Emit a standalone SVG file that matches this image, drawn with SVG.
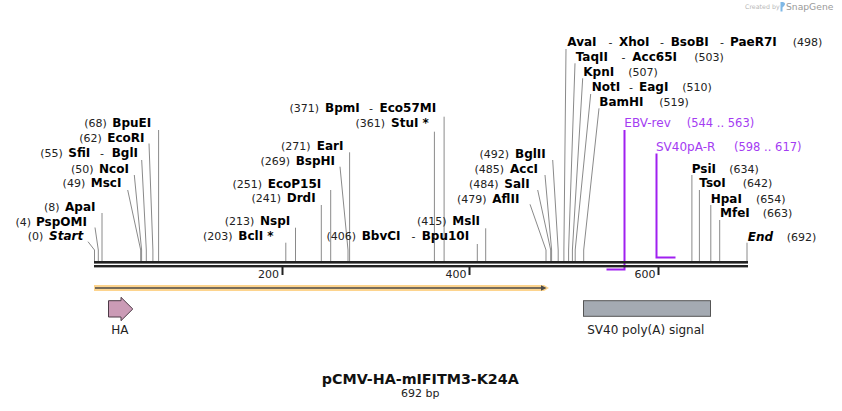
<svg xmlns="http://www.w3.org/2000/svg" width="842" height="411" viewBox="0 0 842 411">
<style>
text{font-family:"DejaVu Sans","Verdana",sans-serif;}
.n{font-size:11px;fill:#222;}
.l{text-anchor:end;}
.e{font-size:12px;font-weight:bold;fill:#000;}
.it{font-style:italic;}
.d{font-size:11px;fill:#222;}
.p{font-size:12px;fill:#a43cf2;}
.pn{font-size:11.5px;fill:#a43cf2;}
.lead{fill:none;stroke:#8a8a8a;stroke-width:1;}
.prim{fill:none;stroke:#a020f0;stroke-width:2;}
.tick{font-size:11px;fill:#222;text-anchor:end;}
.lbl{font-size:12px;fill:#222;text-anchor:middle;}
</style>
<rect x="0" y="0" width="842" height="411" fill="#fff"/>

<g id="logo">
<text x="745" y="9" style="font-size:6.3px;fill:#b8b8b8">Created by</text>
<path d="M781,2 C785,1.5 786,4 784,6 L782.5,7.5 L782.5,11.5 L780.5,11.5 L780.5,2 Z" fill="#7fb8e6"/>
<text x="786" y="10" style="font-size:9.2px;fill:#9a9a9a">SnapGene</text>
</g>

<g id="connectors">
<polyline class="lead" points="88,241.7 94.5,250 94.5,261"/>
<polyline class="lead" points="95,227.5 98.3,250 98.3,261"/>
<polyline class="lead" points="102,213 102,261"/>
<polyline class="lead" points="127.7,190 140.7,250 140.7,261"/>
<polyline class="lead" points="134.3,175 141.6,250 141.6,261"/>
<polyline class="lead" points="141.7,160 146.3,250 146.3,261"/>
<polyline class="lead" points="149,143.5 152.9,250 152.9,261"/>
<polyline class="lead" points="158.6,130 158.6,261"/>
<polyline class="lead" points="285.8,242.7 285.8,261"/>
<polyline class="lead" points="295.5,227.7 295.5,261"/>
<polyline class="lead" points="321.3,205 321.3,261"/>
<polyline class="lead" points="330.7,190 330.7,261"/>
<polyline class="lead" points="340,166.7 348,250 348,261"/>
<polyline class="lead" points="349.6,152.3 349.6,261"/>
<polyline class="lead" points="434.4,131.7 434.4,261"/>
<polyline class="lead" points="444.1,116.7 444.1,261"/>
<polyline class="lead" points="477.3,244 477.3,261"/>
<polyline class="lead" points="485.7,228.3 485.7,261"/>
<polyline class="lead" points="530,204.3 546,250 546,261"/>
<polyline class="lead" points="537.7,190 550.7,250 550.7,261"/>
<polyline class="lead" points="545,175 551.6,250 551.6,261"/>
<polyline class="lead" points="552.7,160 558.2,250 558.2,261"/>
<polyline class="lead" points="566,49 563.9,250 563.9,261"/>
<polyline class="lead" points="575,63.3 568.6,250 568.6,261"/>
<polyline class="lead" points="582.7,78.3 572.4,250 572.4,261"/>
<polyline class="lead" points="590.7,94 575.2,250 575.2,261"/>
<polyline class="lead" points="599,108.3 583.7,250 583.7,261"/>
<polyline class="lead" points="691.9,175 691.9,261"/>
<polyline class="lead" points="699.4,190 699.4,261"/>
<polyline class="lead" points="710.8,205 710.8,261"/>
<polyline class="lead" points="719.7,220 719.7,261"/>
<polyline class="lead" points="747,242.7 747,261"/>
<path class="prim" d="M624.5,130 V269.5 H606.5"/>
<path class="prim" d="M656.5,153.5 V257.5 H675.5"/>
</g>

<g id="backbone">
<rect x="94" y="261" width="654" height="2.6" fill="#222"/>
<rect x="94" y="265" width="654" height="2.4" fill="#222"/>
<rect x="281.5" y="267" width="2" height="8" fill="#222"/>
<rect x="468.5" y="267" width="2" height="8" fill="#222"/>
<rect x="657.5" y="267" width="2" height="8" fill="#222"/>
<text class="tick" x="279" y="277.5">200</text>
<text class="tick" x="466.5" y="277.5">400</text>
<text class="tick" x="655.5" y="277.5">600</text>
</g>

<g id="orf">
<polygon points="94,285 544,285 549,288 544,291 94,291" fill="#fdd48e"/>
<line x1="95" y1="288" x2="542" y2="288" stroke="#4a4a4a" stroke-width="1.4"/>
<polygon points="541,285.3 546.5,288 541,290.7" fill="#4a4a4a"/>
</g>

<g id="feature-HA">
<polygon points="108.5,300.7 121,300.7 121,297.3 132.8,309 121,320.7 121,317 108.5,317" fill="#cb9bb6" stroke="#4d3a46" stroke-width="1"/>
<text class="lbl" x="119.8" y="334">HA</text>
</g>

<g id="feature-SV40polyA">
<rect x="583.5" y="300.7" width="127" height="15.6" fill="#a4aab2" stroke="#555" stroke-width="1"/>
<text class="lbl" x="645.8" y="334">SV40 poly(A) signal</text>
</g>

<g id="site-Start"><text class="n l" x="43.3" y="240">(0)</text><text class="e it" x="49" y="240">Start</text></g>
<g id="site-PspOMI"><text class="n l" x="31" y="225.7">(4)</text><text class="e" x="36" y="225.7">PspOMI</text></g>
<g id="site-ApaI"><text class="n l" x="59.5" y="210.7">(8)</text><text class="e" x="65" y="210.7">ApaI</text></g>
<g id="site-MscI"><text class="n l" x="85.2" y="187.3">(49)</text><text class="e" x="90.7" y="187.3">MscI</text></g>
<g id="site-NcoI"><text class="n l" x="93.5" y="172.5">(50)</text><text class="e" x="99" y="172.5">NcoI</text></g>
<g id="site-SfiI"><text class="n l" x="62.8" y="157.3">(55)</text><text class="e" x="68.3" y="157.3">SfiI</text><text class="d" x="100" y="157.3">-</text><text class="e" x="111.7" y="157.3">BglI</text></g>
<g id="site-EcoRI"><text class="n l" x="101.8" y="142.3">(62)</text><text class="e" x="107.3" y="142.3">EcoRI</text></g>
<g id="site-BpuEI"><text class="n l" x="106.8" y="127.3">(68)</text><text class="e" x="112.3" y="127.3">BpuEI</text></g>

<g id="site-BclI"><text class="n l" x="232.5" y="240">(203)</text><text class="e" x="238.3" y="240">BclI *</text></g>
<g id="site-NspI"><text class="n l" x="254.3" y="225">(213)</text><text class="e" x="260" y="225">NspI</text></g>
<g id="site-DrdI"><text class="n l" x="281" y="202.3">(241)</text><text class="e" x="286.7" y="202.3">DrdI</text></g>
<g id="site-EcoP15I"><text class="n l" x="262" y="187.7">(251)</text><text class="e" x="267.7" y="187.7">EcoP15I</text></g>
<g id="site-BspHI"><text class="n l" x="290" y="165">(269)</text><text class="e" x="295.7" y="165">BspHI</text></g>
<g id="site-EarI"><text class="n l" x="310.5" y="150">(271)</text><text class="e" x="316.7" y="150">EarI</text></g>
<g id="site-StuI"><text class="n l" x="385" y="127.3">(361)</text><text class="e" x="391" y="127.3">StuI *</text></g>
<g id="site-BpmI"><text class="n l" x="319" y="112.3">(371)</text><text class="e" x="325" y="112.3">BpmI</text><text class="d" x="369" y="112.3">-</text><text class="e" x="379.5" y="112.3">Eco57MI</text></g>
<g id="site-BbvCI"><text class="n l" x="356" y="240">(406)</text><text class="e" x="361.7" y="240">BbvCI</text><text class="d" x="411.5" y="240">-</text><text class="e" x="421.7" y="240">Bpu10I</text></g>
<g id="site-MslI"><text class="n l" x="446.5" y="225">(415)</text><text class="e" x="452.3" y="225">MslI</text></g>

<g id="site-BglII"><text class="n l" x="509" y="158.3">(492)</text><text class="e" x="515" y="158.3">BglII</text></g>
<g id="site-AccI"><text class="n l" x="504" y="173.3">(485)</text><text class="e" x="510" y="173.3">AccI</text></g>
<g id="site-SalI"><text class="n l" x="498.5" y="188.3">(484)</text><text class="e" x="504.3" y="188.3">SalI</text></g>
<g id="site-AflII"><text class="n l" x="486.5" y="202.5">(479)</text><text class="e" x="492.3" y="202.5">AflII</text></g>

<g id="site-AvaI"><text class="e" x="567.3" y="45.7">AvaI</text><text class="d" x="608.5" y="45.7">-</text><text class="e" x="619" y="45.7">XhoI</text><text class="d" x="660" y="45.7">-</text><text class="e" x="670.7" y="45.7">BsoBI</text><text class="d" x="720" y="45.7">-</text><text class="e" x="730" y="45.7">PaeR7I</text><text class="n" x="792.7" y="45.7">(498)</text></g>
<g id="site-TaqII"><text class="e" x="575.7" y="60.5">TaqII</text><text class="d" x="621.5" y="60.5">-</text><text class="e" x="632.3" y="60.5">Acc65I</text><text class="n" x="694.3" y="60.5">(503)</text></g>
<g id="site-KpnI"><text class="e" x="583.3" y="75.7">KpnI</text><text class="n" x="628.3" y="75.7">(507)</text></g>
<g id="site-NotI"><text class="e" x="591.7" y="91">NotI</text><text class="d" x="629" y="91">-</text><text class="e" x="639" y="91">EagI</text><text class="n" x="682.3" y="91">(510)</text></g>
<g id="site-BamHI"><text class="e" x="599.3" y="105.7">BamHI</text><text class="n" x="659.3" y="105.7">(519)</text></g>

<g id="primer-EBV-rev"><text class="p" x="624.3" y="127.3">EBV-rev</text><text class="pn" x="686.7" y="127.3">(544 .. 563)</text></g>
<g id="primer-SV40pA-R"><text class="p" x="656" y="150.7">SV40pA-R</text><text class="pn" x="734" y="150.7">(598 .. 617)</text></g>

<g id="site-PsiI"><text class="e" x="691.7" y="172.7">PsiI</text><text class="n" x="729.3" y="172.7">(634)</text></g>
<g id="site-TsoI"><text class="e" x="699.3" y="187.3">TsoI</text><text class="n" x="742.7" y="187.3">(642)</text></g>
<g id="site-HpaI"><text class="e" x="710.7" y="202.7">HpaI</text><text class="n" x="756" y="202.7">(654)</text></g>
<g id="site-MfeI"><text class="e" x="720" y="217.3">MfeI</text><text class="n" x="762.7" y="217.3">(663)</text></g>
<g id="site-End"><text class="e it" x="747.7" y="241">End</text><text class="n" x="786.7" y="241">(692)</text></g>

<g id="title">
<text x="420.3" y="384" text-anchor="middle" style="font-size:14.3px;font-weight:bold;fill:#111">pCMV-HA-mIFITM3-K24A</text>
<text x="420.3" y="397" text-anchor="middle" style="font-size:11px;fill:#222">692 bp</text>
</g>
</svg>
